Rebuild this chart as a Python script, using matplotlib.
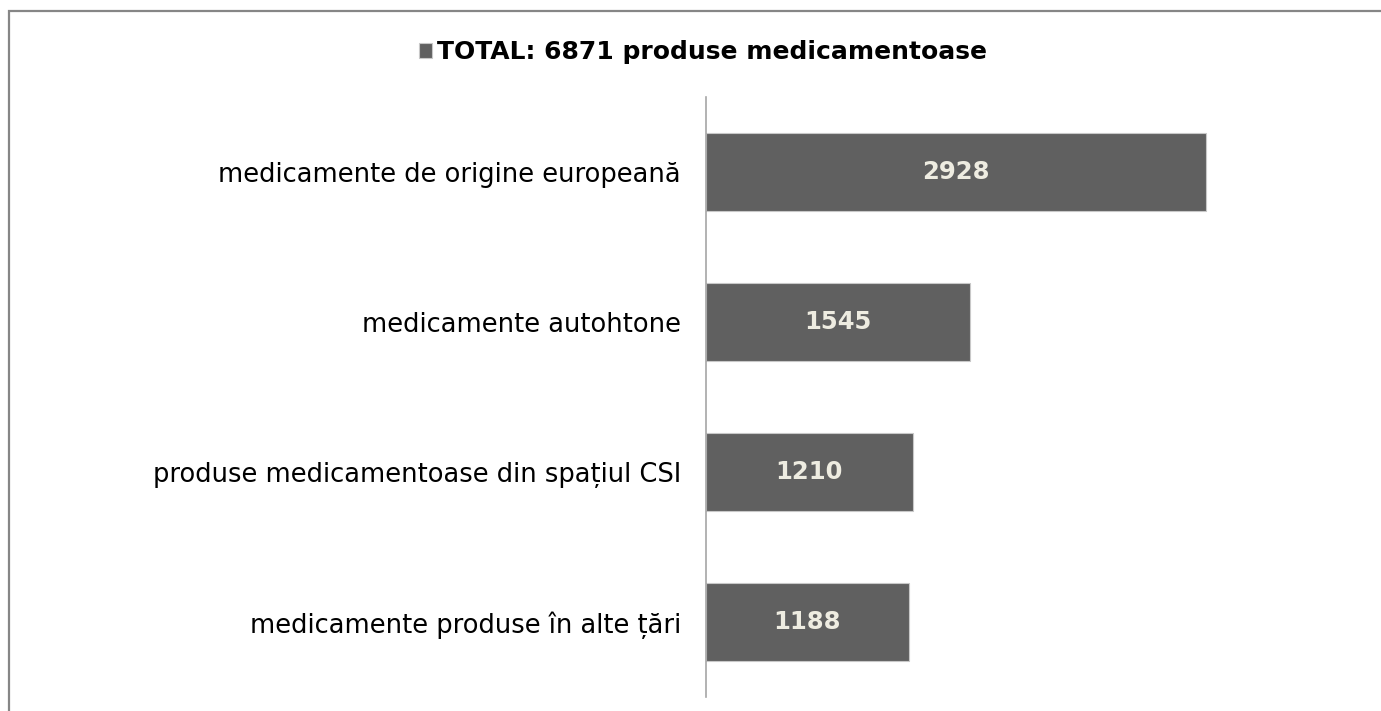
import matplotlib.pyplot as plt
from matplotlib.patches import Rectangle

categories = ['medicamente de origine europeană',
              'medicamente autohtone',
              'produse medicamentoase din spațiul CSI',
              'medicamente produse în alte țări']
values = [2928, 1545, 1210, 1188]
total = 6871
series_name = 'TOTAL: %d produse medicamentoase' % total

W, H = 1381, 711
fig = plt.figure(figsize=(W / 100, H / 100), dpi=100)
fig.patch.set_facecolor('white')

# plot area in pixels: x from 706, y from 97 to 697
ax = fig.add_axes([706 / W, (H - 697) / H, (1372 - 706) / W, 600 / H])

ypos = list(range(len(categories)))[::-1]
bars = ax.barh(ypos, values, height=0.52, color='#606060', edgecolor='#c8c8c8',
               linewidth=0.8, label=series_name)
for b, v in zip(bars, values):
    ax.text(b.get_width() / 2, b.get_y() + b.get_height() / 2, str(v),
            ha='center', va='center', color='#EEECE1', fontsize=17.5, fontweight='bold')

ax.set_xlim(0, 3900)
ax.set_ylim(-0.5, len(categories) - 0.5)
ax.set_yticks(ypos)
ax.set_yticklabels(categories, fontsize=18.5, color='black')
ax.tick_params(axis='y', length=0, pad=18)
ax.set_xticks([])
for s in ['top', 'right', 'bottom']:
    ax.spines[s].set_visible(False)
ax.spines['left'].set_color('#a6a6a6')
ax.spines['left'].set_linewidth(1.2)

fig.legend(loc='center', bbox_to_anchor=(703 / W, 1 - 52 / H), frameon=False,
           handlelength=0.55, handleheight=0.55, handletextpad=0.2,
           prop={'weight': 'bold', 'size': 18})

# chart frame, only left and top visible
fig.patches.append(Rectangle((8.5 / W, -0.1), 2, (H - 10.5) / H + 0.1,
                             transform=fig.transFigure, fill=False,
                             edgecolor='#868686', linewidth=1.6))

fig.savefig('out.png', dpi=100, facecolor='white')
